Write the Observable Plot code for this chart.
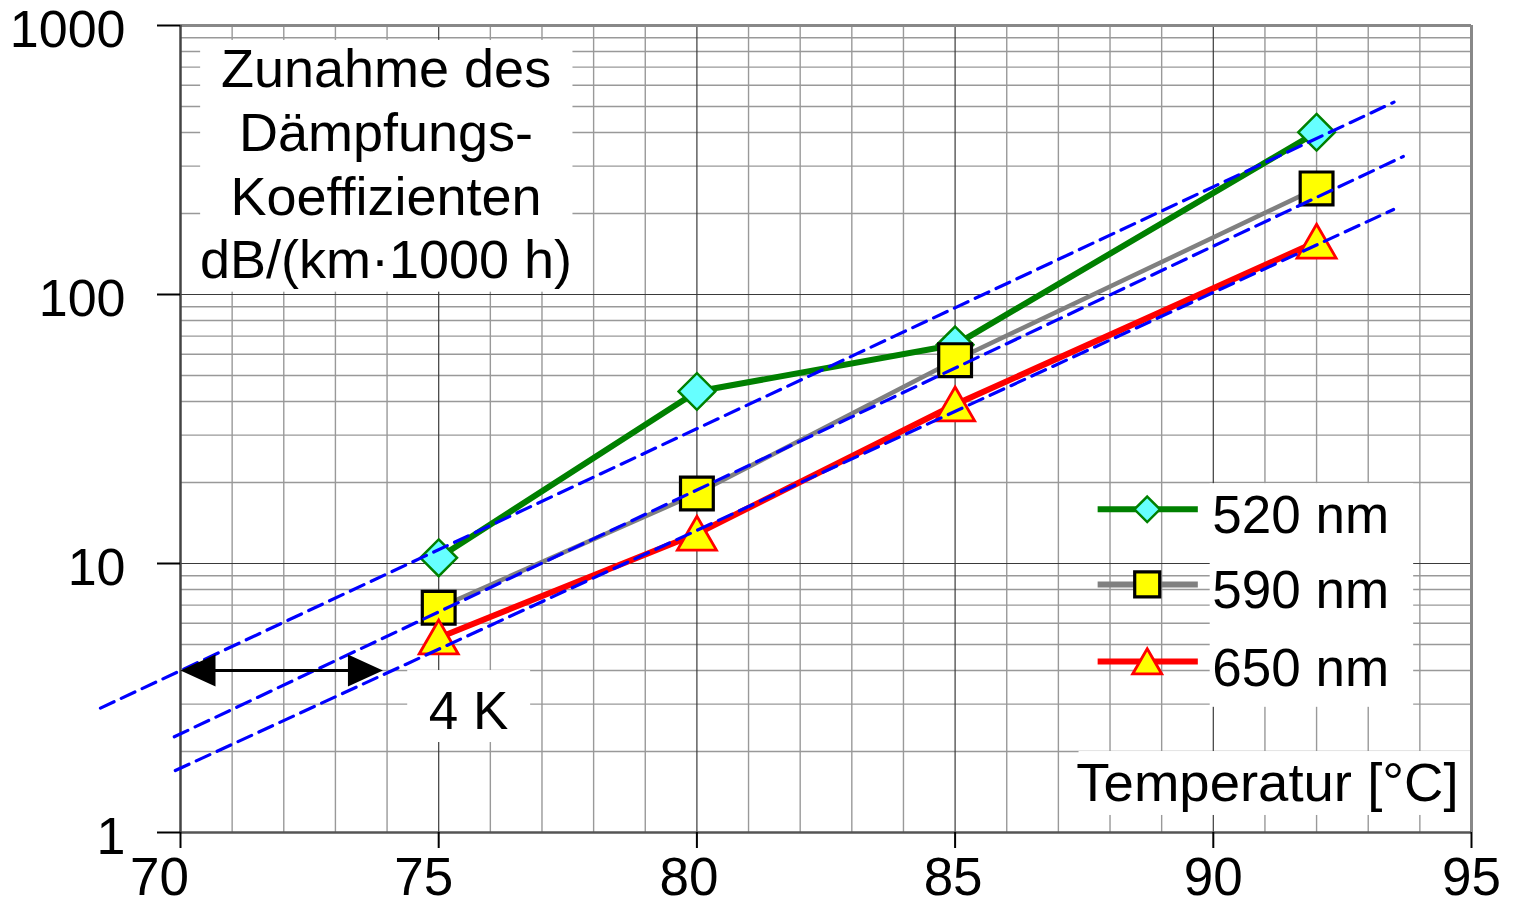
<!DOCTYPE html>
<html><head><meta charset="utf-8">
<script src="https://cdn.jsdelivr.net/npm/d3@7"></script>
<script src="https://cdn.jsdelivr.net/npm/@observablehq/plot@0.6"></script>
<style>
html,body{margin:0;padding:0;background:#fff;}
#chart{width:1515px;height:905px;}
</style></head><body><div id="chart"></div>
<script>
// ---- data ----
const temperatures = [75, 80, 85, 92];
const seriesNames = ["520 nm", "590 nm", "650 nm"];
const values520 = [10.5, 43.6, 65, 401];
const values590 = [6.85, 18.2, 57, 248];
const values650 = [5.3, 12.9, 39, 157];
// dashed exponential fit lines (start / end)
const fitStartT = [68.45, 69.88, 69.9];
const fitStartV = [2.9, 2.27, 1.7];
const fitEndT = [93.5, 93.68, 93.49];
const fitEndV = [519, 326, 207];
// ticks / grid
const xTicks = [70, 75, 80, 85, 90, 95];
const yTicks = [1, 10, 100, 1000];
const xMajorInner = [75, 80, 85, 90];
const xMinor = [71,72,73,74,76,77,78,79,81,82,83,84,86,87,88,89,91,92,93,94];
const yMajorInner = [10, 100];
const yMinor = [2,3,4,5,6,7,8,9,20,30,40,50,60,70,80,90,200,300,400,500,600,700,800,900];
// texts
const titleLines = ["Zunahme des", "Dämpfungs-", "Koeffizienten", "dB/(km·1000 h)"];
const shiftLabel = "4 K";
const xAxisLabel = "Temperatur [°C]";

// ---- tables ----
const rows = (vals) => temperatures.map((t, i) => ({t, v: vals[i]}));
const fits = fitStartT.map((t, i) => [{t, v: fitStartV[i], k: i}, {t: fitEndT[i], v: fitEndV[i], k: i}]).flat();

const styles = [
  {line: "#008000", lw: 6, symbol: "diamond2", fill: "#66ffff", stroke: "#008000", sw: 2.5, r: 16.5, lr: 11.5, dy: 0},
  {line: "#808080", lw: 4.5, symbol: "square", fill: "#ffff00", stroke: "#000000", sw: 3.2, r: 18.5, lr: 14.1, dy: 0},
  {line: "#ff0000", lw: 6, symbol: "triangle", fill: "#ffff00", stroke: "#ff0000", sw: 2.8, r: 14.5, lr: 10.8, dy: 5}
];
const seriesData = [rows(values520), rows(values590), rows(values650)];

const arrowHead = {draw(ctx) { ctx.moveTo(0, 0); ctx.lineTo(35, -16); ctx.lineTo(35, 16); ctx.closePath(); }};

// layout helpers
const legendY = [15.9, 8.36, 4.32];
const xLabelShift = [-21, -15, -8, -2, 0, 0];

const marks = [
  Plot.ruleX(xMinor, {stroke: "#999", strokeWidth: 1.4}),
  Plot.ruleY(yMinor, {stroke: "#999", strokeWidth: 1.4}),
  Plot.ruleX(xMajorInner, {stroke: "#3a3a3a", strokeWidth: 1.2}),
  Plot.ruleY(yMajorInner, {stroke: "#3a3a3a", strokeWidth: 1.2}),
  // white boxes
  Plot.rect([0], {x1: 70.39, x2: 77.6, y1: 102, y2: 880, fill: "white"}),
  Plot.rect([0], {x1: 74.4, x2: 76.78, y1: 2.16, y2: 4.0, fill: "white"}),
  Plot.rect([0], {x1: 87.4, x2: 95, y1: 1.157, y2: 2.0, fill: "white"}),
  Plot.rect([0], {x1: 89.94, x2: 93.88, y1: 2.92, y2: 19.8, fill: "white"}),
  // frame
  Plot.ruleY([1000], {stroke: "#888", strokeWidth: 3}),
  Plot.ruleX([95], {stroke: "#888", strokeWidth: 3}),
  Plot.ruleY([1], {stroke: "#555", strokeWidth: 2.5}),
  Plot.ruleX([70], {stroke: "#444", strokeWidth: 2.5}),
  // axes
  Plot.axisY({ticks: yTicks, tickSize: 23, tickFormat: () => "", label: null, strokeWidth: 2}),
  Plot.text(yTicks, {y: d => d, frameAnchor: "left", dx: -55, dy: 5, textAnchor: "end", text: d => String(d), fontSize: 52}),
  Plot.axisX({ticks: xTicks, tickSize: 16, tickFormat: () => "", label: null, strokeWidth: 2})
];
xTicks.forEach((t, i) => marks.push(Plot.text([t], {x: d => d, frameAnchor: "bottom", lineAnchor: "top", dy: 25, dx: xLabelShift[i], textAnchor: "middle", text: d => String(d), fontSize: 53})));

// data lines
seriesData.forEach((d, i) => marks.push(Plot.line(d, {x: "t", y: "v", stroke: styles[i].line, strokeWidth: styles[i].lw})));
// markers
seriesData.forEach((d, i) => marks.push(Plot.dot(d, {x: "t", y: "v", symbol: styles[i].symbol, r: styles[i].r, fill: styles[i].fill, stroke: styles[i].stroke, strokeWidth: styles[i].sw, dy: styles[i].dy})));
// fit lines
marks.push(Plot.line(fits, {x: "t", y: "v", z: "k", stroke: "#0000ff", strokeWidth: 3.2, strokeDasharray: "15,8"}));
// arrow
marks.push(Plot.ruleY([4.0], {x1: 70.3, x2: 73.6, stroke: "#000", strokeWidth: 3}));
marks.push(Plot.dot([0], {x: 70, y: 4.0, symbol: arrowHead, fill: "#000", stroke: "none"}));
marks.push(Plot.dot([0], {x: 73.92, y: 4.0, symbol: arrowHead, fill: "#000", stroke: "none", rotate: 180}));
// texts
marks.push(Plot.text([titleLines.join("\n")], {x: 73.98, y: 869, text: d => d, textAnchor: "middle", lineAnchor: "top", lineHeight: 1.18, fontSize: 54}));
marks.push(Plot.text([shiftLabel], {x: 75.58, y: 2.81, text: d => d, textAnchor: "middle", fontSize: 53}));
marks.push(Plot.text([xAxisLabel], {x: 94.75, y: 1.516, text: d => d, textAnchor: "end", fontSize: 54.5}));
// legend
seriesNames.forEach((name, i) => {
  const s = styles[i];
  marks.push(Plot.ruleY([legendY[i]], {x1: 87.77, x2: 89.71, stroke: s.line, strokeWidth: 6}));
  marks.push(Plot.dot([0], {x: 88.72, y: legendY[i], symbol: s.symbol, r: s.lr, fill: s.fill, stroke: s.stroke, strokeWidth: s.sw, dy: s.dy * 0.8}));
  marks.push(Plot.text([name], {x: 89.98, y: legendY[i], text: d => d, textAnchor: "start", dy: 7, fontSize: 53}));
});

const chart = Plot.plot({
  width: 1515, height: 905,
  marginLeft: 180, marginRight: 44, marginTop: 25, marginBottom: 73,
  x: {domain: [70, 95], axis: null},
  y: {type: "log", domain: [1, 1000], axis: null},
  style: {fontFamily: '"Liberation Sans", Arial, sans-serif', fontSize: "52px", background: "#fff", overflow: "visible", color: "#000"},
  marks
});
document.getElementById("chart").appendChild(chart);
</script></body></html>
